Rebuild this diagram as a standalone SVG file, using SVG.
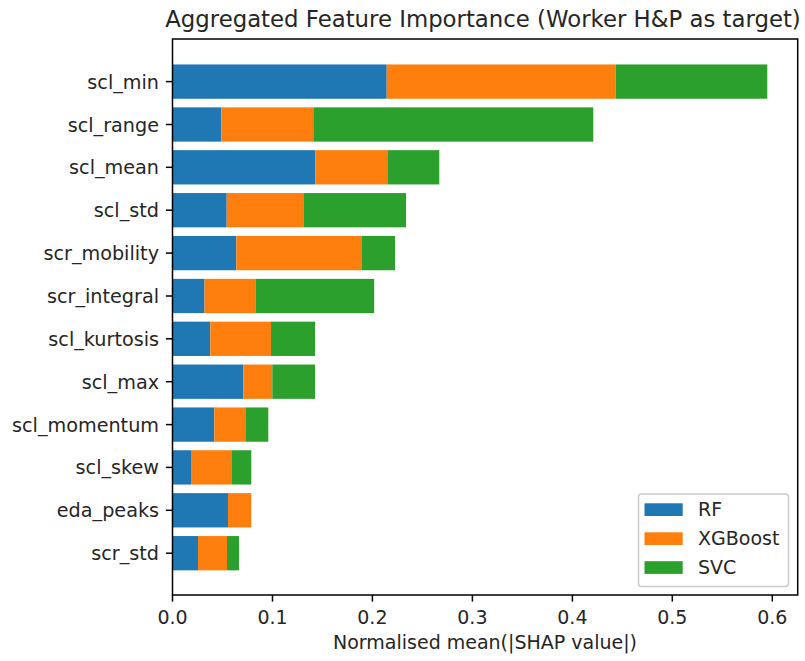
<svg xmlns="http://www.w3.org/2000/svg" width="805" height="661" viewBox="0 0 805 661">
<style>
text{font-family:"DejaVu Sans","Liberation Sans",sans-serif;fill:#262626;}
.t{font-size:19px;}
.yl{font-size:19.2px;text-anchor:end;}
.xl{font-size:19px;text-anchor:middle;}
.title{font-size:22.8px;text-anchor:middle;}
.rf{fill:#1f77b4;}
.xg{fill:#ff7f0e;}
.sv{fill:#2ca02c;}
.tick{stroke:#000;stroke-width:1.5;}
</style>
<rect width="805" height="661" fill="#fff"/>
<text class="title" x="483" y="27">Aggregated Feature Importance (Worker H&amp;P as target)</text>
<g id="bars">
<g id="scl_min"><rect class="rf" x="172.5" y="64.45" width="214.2" height="34.3"/><rect class="xg" x="386.7" y="64.45" width="229" height="34.3"/><rect class="sv" x="615.7" y="64.45" width="151.6" height="34.3"/></g>
<g id="scl_range"><rect class="rf" x="172.5" y="107.35" width="48.8" height="34.3"/><rect class="xg" x="221.3" y="107.35" width="92" height="34.3"/><rect class="sv" x="313.3" y="107.35" width="280" height="34.3"/></g>
<g id="scl_mean"><rect class="rf" x="172.5" y="150.15" width="142.8" height="34.3"/><rect class="xg" x="315.3" y="150.15" width="72.7" height="34.3"/><rect class="sv" x="388" y="150.15" width="51.3" height="34.3"/></g>
<g id="scl_std"><rect class="rf" x="172.5" y="193.05" width="54.2" height="34.3"/><rect class="xg" x="226.7" y="193.05" width="77.3" height="34.3"/><rect class="sv" x="304" y="193.05" width="102" height="34.3"/></g>
<g id="scr_mobility"><rect class="rf" x="172.5" y="235.95" width="63.8" height="34.3"/><rect class="xg" x="236.3" y="235.95" width="125.7" height="34.3"/><rect class="sv" x="362" y="235.95" width="33" height="34.3"/></g>
<g id="scr_integral"><rect class="rf" x="172.5" y="278.85" width="32" height="34.3"/><rect class="xg" x="204.5" y="278.85" width="51" height="34.3"/><rect class="sv" x="255.5" y="278.85" width="118.7" height="34.3"/></g>
<g id="scl_kurtosis"><rect class="rf" x="172.5" y="321.65" width="37.8" height="34.3"/><rect class="xg" x="210.3" y="321.65" width="60.7" height="34.3"/><rect class="sv" x="271" y="321.65" width="44" height="34.3"/></g>
<g id="scl_max"><rect class="rf" x="172.5" y="364.55" width="70.8" height="34.3"/><rect class="xg" x="243.3" y="364.55" width="29" height="34.3"/><rect class="sv" x="272.3" y="364.55" width="42.7" height="34.3"/></g>
<g id="scl_momentum"><rect class="rf" x="172.5" y="407.45" width="41.8" height="34.3"/><rect class="xg" x="214.3" y="407.45" width="31.7" height="34.3"/><rect class="sv" x="246" y="407.45" width="22.3" height="34.3"/></g>
<g id="scl_skew"><rect class="rf" x="172.5" y="450.25" width="18.5" height="34.3"/><rect class="xg" x="191" y="450.25" width="41" height="34.3"/><rect class="sv" x="232" y="450.25" width="19.3" height="34.3"/></g>
<g id="eda_peaks"><rect class="rf" x="172.5" y="493.15" width="55.5" height="34.3"/><rect class="xg" x="228" y="493.15" width="23.3" height="34.3"/></g>
<g id="scr_std"><rect class="rf" x="172.5" y="536.05" width="25.5" height="34.3"/><rect class="xg" x="198" y="536.05" width="29" height="34.3"/><rect class="sv" x="227" y="536.05" width="12" height="34.3"/></g>
</g>
<g id="legend">
<rect x="638.5" y="494" width="150" height="92.5" rx="3" ry="3" fill="#fff" fill-opacity="0.8" stroke="#cccccc" stroke-width="1.5"/>
<rect class="rf" x="644.5" y="503.3" width="38.2" height="12.7"/>
<rect class="xg" x="644.5" y="532.3" width="38.2" height="12.7"/>
<rect class="sv" x="644.5" y="561.2" width="38.2" height="12.7"/>
<text class="t" x="698" y="516">RF</text>
<text class="t" x="698" y="545">XGBoost</text>
<text class="t" x="698" y="574">SVC</text>
</g>
<g id="axes">
<rect x="172.5" y="39" width="625.2" height="556" fill="none" stroke="#000" stroke-width="1.5"/>
<g class="tick">
<line x1="172.5" y1="595" x2="172.5" y2="601.6"/><line x1="272.5" y1="595" x2="272.5" y2="601.6"/><line x1="372.4" y1="595" x2="372.4" y2="601.6"/><line x1="472.4" y1="595" x2="472.4" y2="601.6"/><line x1="572.4" y1="595" x2="572.4" y2="601.6"/><line x1="672.3" y1="595" x2="672.3" y2="601.6"/><line x1="772.3" y1="595" x2="772.3" y2="601.6"/>
<line x1="165.9" y1="81.6" x2="172.5" y2="81.6"/><line x1="165.9" y1="124.5" x2="172.5" y2="124.5"/><line x1="165.9" y1="167.3" x2="172.5" y2="167.3"/><line x1="165.9" y1="210.2" x2="172.5" y2="210.2"/><line x1="165.9" y1="253.1" x2="172.5" y2="253.1"/><line x1="165.9" y1="296" x2="172.5" y2="296"/><line x1="165.9" y1="338.8" x2="172.5" y2="338.8"/><line x1="165.9" y1="381.7" x2="172.5" y2="381.7"/><line x1="165.9" y1="424.6" x2="172.5" y2="424.6"/><line x1="165.9" y1="467.4" x2="172.5" y2="467.4"/><line x1="165.9" y1="510.3" x2="172.5" y2="510.3"/><line x1="165.9" y1="553.2" x2="172.5" y2="553.2"/>
</g>
<text class="xl" x="172.5" y="624">0.0</text><text class="xl" x="272.5" y="624">0.1</text><text class="xl" x="372.4" y="624">0.2</text><text class="xl" x="472.4" y="624">0.3</text><text class="xl" x="572.4" y="624">0.4</text><text class="xl" x="672.3" y="624">0.5</text><text class="xl" x="772.3" y="624">0.6</text>
<text class="yl" x="159" y="88.6">scl_min</text>
<text class="yl" x="159" y="131.5">scl_range</text>
<text class="yl" x="159" y="174.3">scl_mean</text>
<text class="yl" x="159" y="217.2">scl_std</text>
<text class="yl" x="159" y="260.1">scr_mobility</text>
<text class="yl" x="159" y="303">scr_integral</text>
<text class="yl" x="159" y="345.8">scl_kurtosis</text>
<text class="yl" x="159" y="388.7">scl_max</text>
<text class="yl" x="159" y="431.6">scl_momentum</text>
<text class="yl" x="159" y="474.4">scl_skew</text>
<text class="yl" x="159" y="517.3">eda_peaks</text>
<text class="yl" x="159" y="560.2">scr_std</text>
<text class="xl" x="485" y="649">Normalised mean(|SHAP value|)</text>
</g>
</svg>
